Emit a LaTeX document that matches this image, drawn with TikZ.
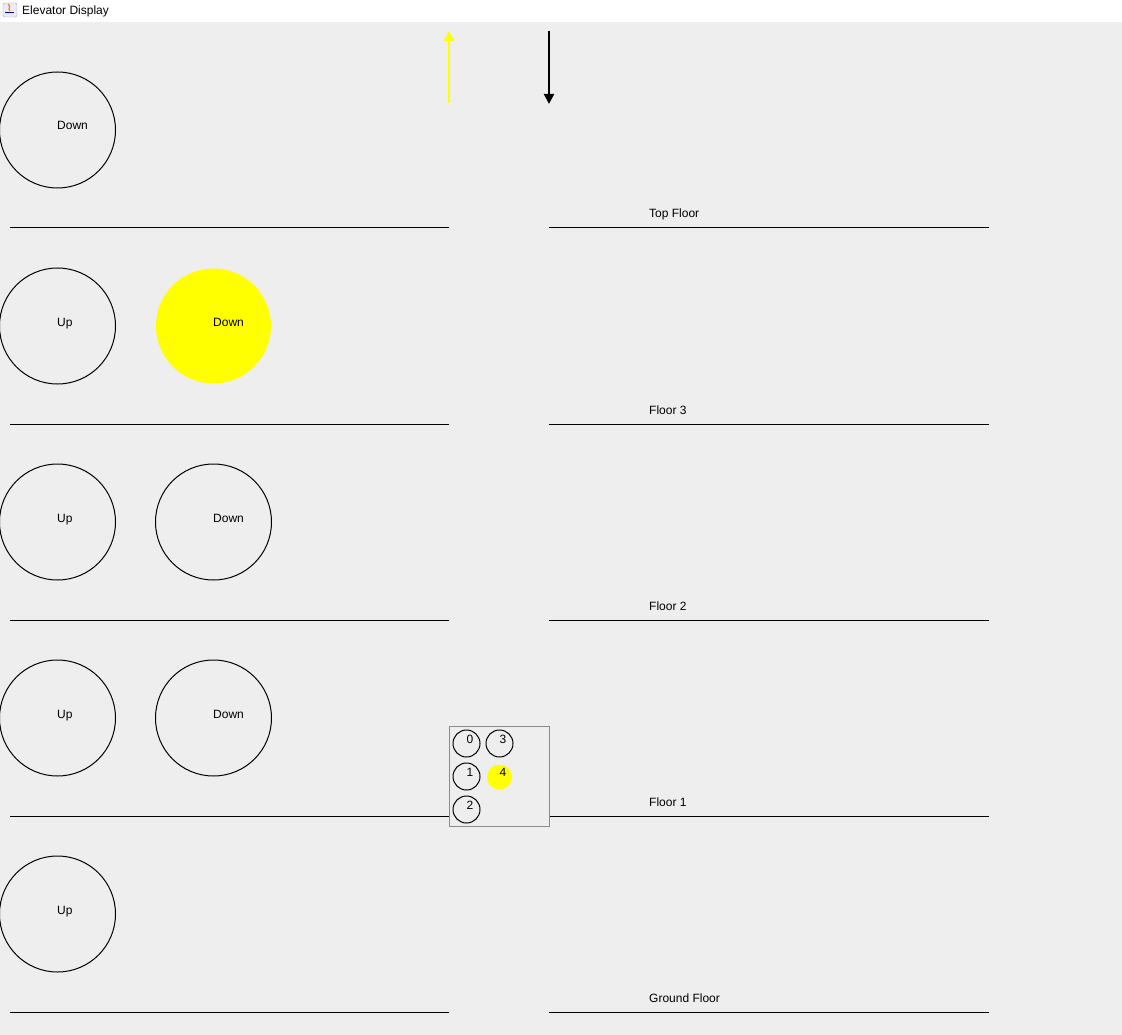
\documentclass[tikz,border=0pt]{standalone}
\usepackage{fontspec}
\setmainfont{Liberation Sans}
\usetikzlibrary{arrows.meta}
\definecolor{bg}{HTML}{EEEEEE}
\definecolor{boxgray}{HTML}{8A8A8A}
\definecolor{yel}{HTML}{FFFF00}
\tikzset{
  lbl/.style={anchor=base west, inner sep=0pt, font=\fontsize{12}{14}\selectfont},
  bigcirc/.style={draw=black, line width=1pt},
  floorline/.style={draw=black, line width=1pt},
  smallcirc/.style={draw=black, line width=1pt},
}
\begin{document}
\begin{tikzpicture}[x=1pt,y=-1pt]
\useasboundingbox (0,0) rectangle (1122,1035);
\fill[bg] (0,0) rectangle (1122,1035);
\fill[white] (0,0) rectangle (1122,22);
% title icon
\node[draw=gray!70, fill=blue!8, rounded corners=1.5pt, minimum width=14pt, minimum height=14pt, inner sep=0pt] (icon) at (10,10) {};
\draw[orange, line width=1.2pt] (8,4) .. controls (12,7) and (7,8) .. (10,11);
\draw[blue!60!black, line width=1pt] (5,13) -- (14,13);
\node[lbl, font=\fontsize{12}{14}\selectfont] (title) at (22,15) {Elevator Display};

% arrows
\coordinate (upbot) at (449,103);
\coordinate (uptop) at (449,31);
\coordinate (dntop) at (549,31);
\coordinate (dnbot) at (549,104);
\draw[yel, line width=2pt, -{Triangle[length=10pt,width=10pt]}] (upbot) -- (uptop);
\draw[black, line width=2pt, -{Triangle[length=10pt,width=10pt]}] (dntop) -- (dnbot);

% floor lines
\foreach \y/\name/\lab in {228/top/Top Floor, 424/f3/Floor 3, 620/f2/Floor 2, 816/f1/Floor 1, 1012/g/Ground Floor}{
  \coordinate (\name la) at (10,\y);
  \coordinate (\name lb) at (449,\y);
  \coordinate (\name ra) at (549,\y);
  \coordinate (\name rb) at (989,\y);
  \draw[floorline] (\name la) -- (\name lb);
  \draw[floorline] (\name ra) -- (\name rb);
  \node[lbl] (\name label) at (649,\y-10) {\lab};
}

% big circles
\node[bigcirc, circle, minimum size=116pt, inner sep=0pt] (c4d) at (57.5,130) {};
\node[lbl] (c4dl) at (57,130) {Down};

\node[bigcirc, circle, minimum size=116pt, inner sep=0pt] (c3u) at (57.5,326) {};
\node[lbl] (c3ul) at (57,326) {Up};
\node[circle, fill=yel, minimum size=115pt, inner sep=0pt] (c3d) at (213.5,326) {};
\node[lbl] (c3dl) at (213,326) {Down};

\node[bigcirc, circle, minimum size=116pt, inner sep=0pt] (c2u) at (57.5,522) {};
\node[lbl] (c2ul) at (57,522) {Up};
\node[bigcirc, circle, minimum size=116pt, inner sep=0pt] (c2d) at (213.5,522) {};
\node[lbl] (c2dl) at (213,522) {Down};

\node[bigcirc, circle, minimum size=116pt, inner sep=0pt] (c1u) at (57.5,718) {};
\node[lbl] (c1ul) at (57,718) {Up};
\node[bigcirc, circle, minimum size=116pt, inner sep=0pt] (c1d) at (213.5,718) {};
\node[lbl] (c1dl) at (213,718) {Down};

\node[bigcirc, circle, minimum size=116pt, inner sep=0pt] (c0u) at (57.5,914) {};
\node[lbl] (c0ul) at (57,914) {Up};

% elevator car
\node[draw=boxgray, fill=bg, line width=1pt, minimum width=100pt, minimum height=100pt, inner sep=0pt] (car) at (499.5,776.5) {};
\node[smallcirc, circle, minimum size=27pt, inner sep=0pt] (b0) at (466.5,743.5) {};
\node[lbl] (b0l) at (466.5,743.5) {0};
\node[smallcirc, circle, minimum size=27pt, inner sep=0pt] (b3) at (499.5,743.5) {};
\node[lbl] (b3l) at (499.5,743.5) {3};
\node[smallcirc, circle, minimum size=27pt, inner sep=0pt] (b1) at (466.5,776.5) {};
\node[lbl] (b1l) at (466.5,776.5) {1};
\node[circle, fill=yel, minimum size=25pt, inner sep=0pt] (b4) at (499.5,777) {};
\node[lbl] (b4l) at (499.5,776.5) {4};
\node[smallcirc, circle, minimum size=27pt, inner sep=0pt] (b2) at (466.5,809.5) {};
\node[lbl] (b2l) at (466.5,809.5) {2};
\end{tikzpicture}
\end{document}
